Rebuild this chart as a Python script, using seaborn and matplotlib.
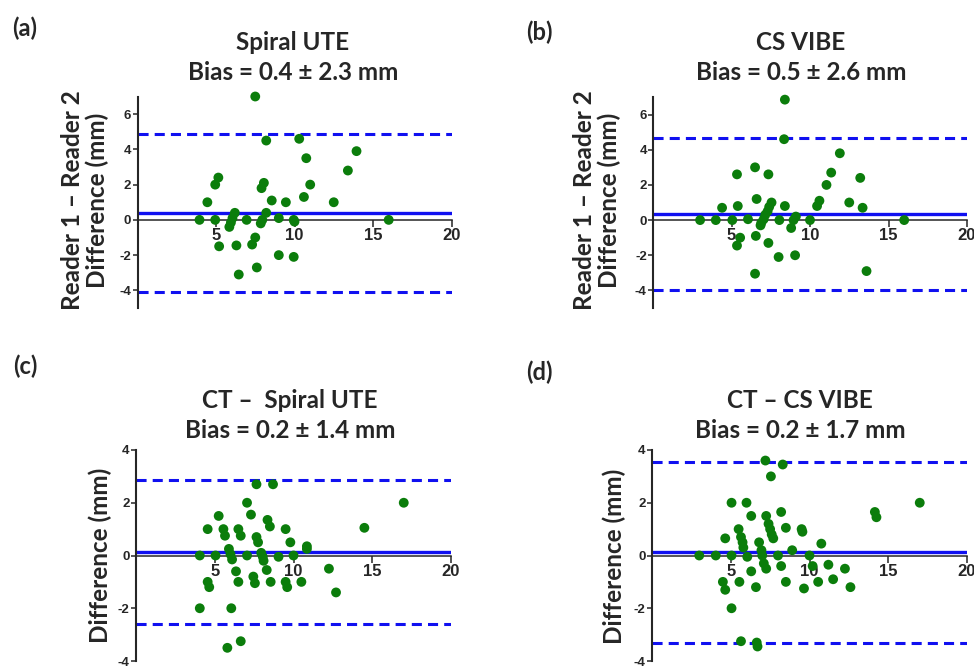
import matplotlib
matplotlib.use("Agg")
import matplotlib.pyplot as plt
import seaborn as sns
import pandas as pd

# ---------------- data ----------------
a_x = [7.5, 8.2, 10.3, 13.95, 10.75, 13.4, 5.15, 4.95, 8.05, 7.9, 11.0, 4.45, 8.55, 9.45, 10.6, 12.5,
       6.2, 8.2, 3.95, 4.95, 6.95, 9.0, 9.95, 10.0, 16.0, 6.05, 5.95, 5.85, 7.95, 7.85, 7.5, 7.3,
       5.2, 6.3, 9.0, 9.95, 7.6, 6.45]
a_y = [7.0, 4.5, 4.6, 3.9, 3.5, 2.8, 2.4, 2.0, 2.1, 1.8, 2.0, 1.0, 1.1, 1.0, 1.3, 1.0,
       0.4, 0.4, 0.0, 0.0, 0.0, 0.1, 0.0, -0.1, 0.0, 0.1, -0.15, -0.4, 0.0, -0.2, -1.0, -1.4,
       -1.5, -1.45, -2.0, -2.1, -2.7, -3.1]

b_x = [8.4, 8.35, 11.9, 6.5, 5.35, 7.35, 11.35, 13.2, 11.05, 6.6, 10.6, 10.45, 12.5, 4.4, 5.4, 8.4,
       13.35, 7.55, 7.4, 7.3, 7.15, 7.05, 6.9, 6.85, 3.0, 4.0, 5.05, 6.05, 8.05, 8.95, 9.1, 8.8,
       10.0, 16.0, 6.55, 5.55, 5.35, 7.35, 8.0, 9.05, 6.5, 13.6]
b_y = [6.85, 4.6, 3.8, 3.0, 2.6, 2.6, 2.7, 2.4, 2.0, 1.2, 1.1, 0.8, 1.0, 0.7, 0.8, 0.8,
       0.7, 1.0, 0.75, 0.5, 0.3, 0.05, -0.15, -0.3, 0.0, 0.0, 0.0, 0.05, 0.0, 0.0, 0.2, -0.45,
       0.0, 0.0, -0.9, -1.0, -1.45, -1.3, -2.1, -2.0, -3.05, -2.9]

c_x = [7.65, 8.7, 17.0, 7.05, 7.3, 5.25, 8.35, 8.5, 4.55, 5.55, 5.65, 6.5, 6.65, 9.5, 14.5, 7.65,
       7.75, 9.8, 10.85, 10.85, 5.9, 6.0, 6.1, 4.05, 5.05, 7.05, 7.95, 8.05, 8.1, 9.05, 10.0, 6.35,
       8.3, 12.25, 4.55, 4.65, 6.5, 7.45, 7.55, 8.55, 9.5, 9.6, 10.5, 12.7, 4.05, 6.05, 6.65, 5.8]
c_y = [2.7, 2.7, 2.0, 2.0, 1.55, 1.5, 1.35, 1.1, 1.0, 1.0, 0.75, 1.0, 0.75, 1.0, 1.05, 0.7,
       0.5, 0.5, 0.35, 0.25, 0.25, 0.05, -0.15, 0.0, 0.0, 0.0, 0.1, -0.05, -0.2, -0.05, 0.0, -0.6,
       -0.55, -0.5, -1.0, -1.2, -1.0, -0.8, -1.05, -1.0, -1.0, -1.2, -1.0, -1.4, -2.0, -2.0, -3.25, -3.5]

d_x = [7.2, 8.3, 7.55, 5.05, 6.0, 17.0, 8.2, 14.15, 14.25, 6.3, 7.25, 7.4, 7.5, 7.6, 7.7, 8.5,
       9.5, 9.55, 5.5, 5.65, 5.75, 5.8, 4.65, 6.8, 10.75, 8.9, 3.0, 4.05, 5.05, 6.05, 6.95, 7.0,
       8.0, 10.0, 7.1, 7.25, 8.2, 10.2, 11.2, 12.25, 6.3, 4.5, 4.65, 5.55, 6.6, 8.5, 9.65, 10.55,
       11.5, 12.6, 5.05, 5.65, 6.65, 6.7]
d_y = [3.6, 3.45, 3.0, 2.0, 2.0, 2.0, 1.65, 1.65, 1.45, 1.5, 1.5, 1.2, 1.0, 0.8, 0.65, 1.05,
       1.0, 0.9, 1.0, 0.7, 0.5, 0.3, 0.65, 0.5, 0.45, 0.2, 0.0, 0.0, 0.0, -0.05, 0.2, 0.0,
       0.0, 0.0, -0.3, -0.5, -0.4, -0.4, -0.35, -0.5, -0.6, -1.0, -1.3, -1.0, -1.2, -1.0, -1.25, -1.0,
       -0.9, -1.2, -2.0, -3.25, -3.3, -3.45]

bias_lines = [0.4, 0.35, 0.14, 0.13]
upper_loa = [4.9, 4.65, 2.87, 3.54]
lower_loa = [-4.1, -3.95, -2.6, -3.3]

panel_tags = ["(a)", "(b)", "(c)", "(d)"]
titles = ["Spiral UTE", "CS VIBE", "CT –  Spiral UTE", "CT – CS VIBE"]
bias_text = ["Bias = 0.4 \u00b1 2.3 mm", "Bias = 0.5 \u00b1 2.6 mm",
             "Bias = 0.2 \u00b1 1.4 mm", "Bias = 0.2 \u00b1 1.7 mm"]
y_labels = ["Reader 1 \u2013 Reader 2\nDifference (mm)", "Reader 1 \u2013 Reader 2\nDifference (mm)",
            "Difference (mm)", "Difference (mm)"]
x_ticks = [5, 10, 15, 20]
y_ticks_top = [-4, -2, 0, 2, 4, 6]
y_ticks_bottom = [-4, -2, 0, 2, 4]

# ---------------- figure ----------------
sns.set_style("ticks")
plt.rcParams['font.family'] = ['Liberation Sans', 'DejaVu Sans']
plt.rcParams['axes.unicode_minus'] = False

W, H = 974, 667
fig = plt.figure(figsize=(W / 100, H / 100), dpi=100)


def rect(l, r, t, b):
    return [l / W, 1 - b / H, (r - l) / W, (b - t) / H]


def fx(px):
    return px / W


def fy(py):
    return 1 - py / H


rects = [rect(137.5, 451.5, 96.5, 308), rect(653, 967, 97, 308),
         rect(136, 451, 450, 661), rect(652, 967, 450, 661)]
ylims = [(-5, 7), (-5, 7), (-4, 4), (-4, 4)]
yticks = [y_ticks_top, y_ticks_top, y_ticks_bottom, y_ticks_bottom]
xs = [a_x, b_x, c_x, d_x]
ys = [a_y, b_y, c_y, d_y]

green = "#0b7d0b"
blue = "#1010f0"
title_font = ['Lato', 'DejaVu Sans']

tag_pos = [(25, 28), (539, 32), (25, 366), (539, 372)]
title_cx = [293, 801, 290, 800]
title_y = [(43, 72), (43, 72), (400, 430), (400, 430)]
ylab_x = [85, 597, 100, 614]
ylab_y = [200, 200, 555, 556]

for i in range(4):
    ax = fig.add_axes(rects[i])
    df = pd.DataFrame({"mean": xs[i], "diff": ys[i]})
    ax.axhline(upper_loa[i], color=blue, lw=2.2, linestyle=(0, (3.3, 2.0)), zorder=2)
    ax.axhline(lower_loa[i], color=blue, lw=2.2, linestyle=(0, (3.3, 2.0)), zorder=2)
    ax.axhline(bias_lines[i], color=blue, lw=2.4, zorder=2)
    sns.scatterplot(data=df, x="mean", y="diff", ax=ax, color=green, s=50,
                    linewidth=0, edgecolor="none", zorder=4, clip_on=False, legend=False)
    ax.set_xlim(0, 20)
    ax.set_ylim(*ylims[i])
    ax.set_xticks(x_ticks)
    ax.set_yticks(yticks[i])
    ax.set_xlabel("")
    ax.set_ylabel("")
    ax.spines['top'].set_visible(False)
    ax.spines['right'].set_visible(False)
    ax.spines['bottom'].set_position(('data', 0))
    ax.spines['bottom'].set_linewidth(1.1)
    ax.spines['left'].set_linewidth(1.5)
    ax.spines['bottom'].set_zorder(3)
    ax.tick_params(axis='x', direction='out', length=5, width=1.1, pad=1,
                   labelsize=12)
    ax.tick_params(axis='y', direction='out', length=3.5, width=1.1, pad=1,
                   labelsize=9.5)
    for lab in ax.get_xticklabels() + ax.get_yticklabels():
        lab.set_fontweight('bold')
    ax.patch.set_alpha(0)

    fig.text(fx(tag_pos[i][0]), fy(tag_pos[i][1]), panel_tags[i], ha='center', va='center',
             fontsize=17, fontweight='bold', family=title_font)
    fig.text(fx(title_cx[i]), fy(title_y[i][0]), titles[i], ha='center', va='center',
             fontsize=17.5, fontweight='bold', family=title_font)
    fig.text(fx(title_cx[i]), fy(title_y[i][1]), bias_text[i], ha='center', va='center',
             fontsize=17.5, fontweight='bold', family=title_font)
    fig.text(fx(ylab_x[i]), fy(ylab_y[i]), y_labels[i], ha='center', va='center',
             rotation=90, fontsize=17.5, fontweight='bold', family=title_font,
             linespacing=1.05, multialignment='center')

fig.savefig("out.png", dpi=100)
